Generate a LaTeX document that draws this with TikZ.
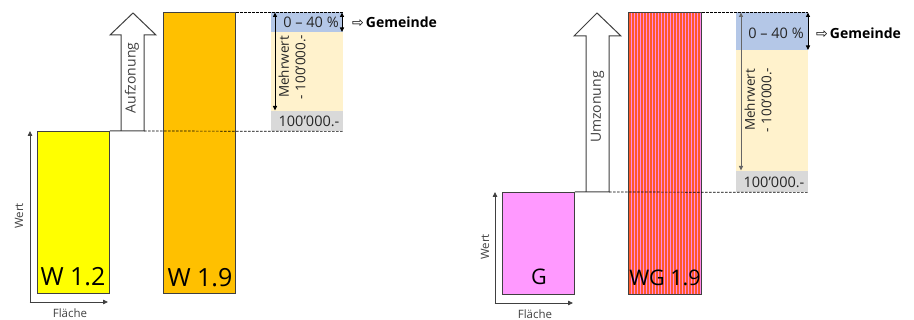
\documentclass[tikz,border=0pt]{standalone}
\usepackage{fontspec}
\setmainfont{Open Sans}
\newfontfamily\symfont{DejaVu Sans}
\usetikzlibrary{arrows.meta}
\definecolor{wyellow}{HTML}{FFFF00}
\definecolor{worange}{HTML}{FFC000}
\definecolor{gpink}{HTML}{FF99FF}
\definecolor{boxblue}{HTML}{B4C7E7}
\definecolor{boxcream}{HTML}{FFF2CC}
\definecolor{boxgray}{HTML}{D9D9D9}
\definecolor{stripeor}{HTML}{FF5A28}
\definecolor{stripepk}{HTML}{FF88E8}
\definecolor{edge}{HTML}{404040}
\tikzset{
  bar/.style={draw=edge, line width=0.9pt, inner sep=0pt, anchor=north west},
  info/.style={inner sep=0pt, anchor=north west},
  barlabel/.style={inner sep=0pt, font=\fontsize{25}{28}\selectfont},
  barlabelr/.style={inner sep=0pt, font=\fontsize{21.5}{24}\selectfont},
  axis/.style={draw=edge, line width=0.8pt, -{Triangle[length=5pt,width=4.5pt]}},
  axlabel/.style={inner sep=0pt, font=\fontsize{11.5}{13}\selectfont, text=edge},
  blockarrow/.style={draw=edge, line width=1pt, fill=white, line join=miter},
  arrowtext/.style={inner sep=0pt, rotate=90, font=\fontsize{14}{16}\selectfont, text=edge},
  guide/.style={draw=black, line width=0.7pt, dash pattern=on 2.6pt off 1.4pt},
  dim/.style={line width=0.9pt, {Triangle[length=4.5pt,width=4pt]}-{Triangle[length=4.5pt,width=4pt]}},
  infotext/.style={inner sep=0pt, font=\fontsize{14.5}{17}\selectfont, text=black!85},
  mehr/.style={inner sep=0pt, rotate=90, align=center, font=\fontsize{13.5}{16.5}\selectfont, text=black!85},
  gem/.style={inner sep=0pt, anchor=west, font=\fontsize{14}{16}\selectfont\bfseries},
}
\begin{document}
\begin{tikzpicture}[x=1pt,y=-1pt]
\useasboundingbox (0,0) rectangle (914,320);

% ================= LEFT PANEL =================
\node[info, fill=boxblue, minimum width=72pt, minimum height=20pt] (lblue) at (271,12) {};
\node[info, fill=boxcream, minimum width=72pt, minimum height=79pt] (lcream) at (271,32) {};
\node[info, fill=boxgray, minimum width=72pt, minimum height=20pt] (lgray) at (271,111) {};

\node[bar, fill=wyellow, minimum width=72pt, minimum height=162pt] (w12) at (37,131) {};
\node[bar, fill=worange, minimum width=72pt, minimum height=281pt] (w19) at (163,12) {};
\node[barlabel] (w12t) at (73,277) {W 1.2};
\node[barlabel] (w19t) at (200,278) {W 1.9};

\coordinate (lo) at (30,302);
\coordinate (ly) at (30,131);
\coordinate (lx) at (108,302);
\draw[axis] (lo) -- (ly);
\draw[axis, shorten <=-0.4pt] (lo) -- (lx);
\node[axlabel, rotate=90] (lwert) at (19,216) {Wert};
\node[axlabel] (lflaeche) at (70,313) {Fläche};

\coordinate (la1) at (144,131);
\draw[blockarrow] (w12.north east) -- (la1) -- (144,35) -- (156,35) -- (133,13) -- (110,35) -- (121,35) -- (121,131);
\node[arrowtext] (lauf) at (132,78) {Aufzonung};

\draw[guide] (la1) -- (lgray.south east);
\draw[guide] (w19.north east) -- (lblue.north east);

\coordinate (ld1) at (275,12.5);
\coordinate (ld2) at (275,110.5);
\draw[dim] (ld1) -- (ld2);
\coordinate (ls1) at (342,12.5);
\coordinate (ls2) at (342,32);
\draw[dim] (ls1) -- (ls2);

\node[infotext] (lpct) at (311,22) {0 – 40 \%};
\node[mehr] (lmehr) at (292,67) {Mehrwert\\- 100’000.-};
\node[infotext] (lhund) at (309,121) {100’000.-};
\node[gem] (lgem) at (352,22) {{\symfont\mdseries ⇨}\kern2pt Gemeinde};

% ================= RIGHT PANEL =================
\node[info, fill=boxblue, minimum width=72pt, minimum height=38pt] (rblue) at (736,12) {};
\node[info, fill=boxcream, minimum width=72pt, minimum height=121pt] (rcream) at (736,50) {};
\node[info, fill=boxgray, minimum width=72pt, minimum height=21pt] (rgray) at (736,171) {};

\node[bar, fill=gpink, minimum width=72pt, minimum height=102pt] (g) at (502,192) {};
\node[bar, fill=stripepk, minimum width=73pt, minimum height=282pt,
  path picture={
    \foreach \i in {0,...,25}{
      \draw[stripeor, line width=1.5pt]
        ([xshift=\i*3pt+1.5pt]path picture bounding box.north west) --
        ([xshift=\i*3pt+1.5pt]path picture bounding box.south west);
    }
  }] (wg) at (628,12) {};
\node[barlabelr] (gt) at (539,277) {G};
\node[barlabelr] (wgt) at (665,278) {WG 1.9};

\coordinate (ro) at (495,303);
\coordinate (ry) at (495,192);
\coordinate (rx) at (573,303);
\draw[axis] (ro) -- (ry);
\draw[axis, shorten <=-0.4pt] (ro) -- (rx);
\node[axlabel, rotate=90] (rwert) at (485,247) {Wert};
\node[axlabel] (rflaeche) at (535,314) {Fläche};

\coordinate (ra1) at (609,192);
\draw[blockarrow] (g.north east) -- (ra1) -- (609,36) -- (621,36) -- (597,13) -- (574,36) -- (586,36) -- (586,192);
\node[arrowtext] (rum) at (597.5,107) {Umzonung};

\draw[guide] (ra1) -- (rgray.south east);
\draw[guide] (wg.north east) -- (rblue.north east);

\coordinate (rd1) at (741,12.5);
\coordinate (rd2) at (741,170.5);
\draw[dim, draw=black!60, fill=black] (rd1) -- (rd2);
\coordinate (rs1) at (808,12.5);
\coordinate (rs2) at (808,50);
\draw[dim] (rs1) -- (rs2);

\node[infotext] (rpct) at (776,33) {0 – 40 \%};
\node[mehr] (rmehr) at (758,100) {Mehrwert\\- 100’000.-};
\node[infotext] (rhund) at (774,182) {100’000.-};
\node[gem] (rgem) at (816,33) {{\symfont\mdseries ⇨}\kern2pt Gemeinde};
\end{tikzpicture}
\end{document}
